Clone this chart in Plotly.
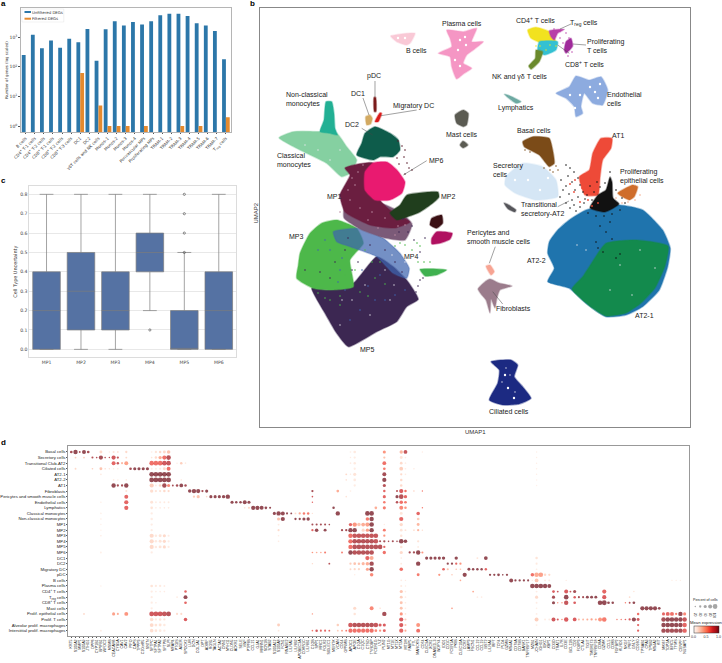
import plotly.graph_objects as go

W, H = 722, 663

# ---------- panel a ----------
deg_groups = ["B cells", "CD4<sup>+</sup> T-1 cells", "CD4<sup>+</sup> T-2 cells", "CD8<sup>+</sup> T-1 cells",
              "CD8<sup>+</sup> T-2 cells", "CD8<sup>+</sup> T-3 cells", "DC1", "DC2", "γδT cells and NK cells",
              "Monos-1", "Monos-2", "Monos-3", "Monos-4", "Perivascular MPs", "Proliferating MPs",
              "TRAM-1", "TRAM-2", "TRAM-3", "TRAM-4", "TRAM-5", "TRAM-6", "TRAM-7", "T<sub>reg</sub> cells"]
unfiltered_degs = [250, 1230, 430, 780, 440, 900, 680, 1900, 160, 1860, 3500, 2500, 3300, 2700, 3500,
                   5600, 6300, 6300, 5200, 3000, 2500, 1620, 180]
filtered_degs = [None, None, None, None, None, None, 62, None, 5, 1, 1, 1, None, 1, None,
                 None, None, 1, None, 1, None, None, 2]

# ---------- panel c ----------
mp_names = ["MP1", "MP2", "MP3", "MP4", "MP5", "MP6"]
unc_q1 = [0.0, 0.1, 0.1, 0.4, 0.0, 0.0]
unc_median = [0.2, 0.3, 0.2, 0.5, 0.0, 0.2]
unc_q3 = [0.4, 0.5, 0.4, 0.6, 0.2, 0.4]
unc_low = [0.0, 0.0, 0.0, 0.2, 0.0, 0.0]
unc_high = [0.8, 0.8, 0.8, 0.8, 0.5, 0.8]
unc_outlier_cat = ["MP4", "MP5", "MP5", "MP5", "MP5"]
unc_outlier_val = [0.1, 0.5, 0.6, 0.7, 0.8]

at2_2 = [(549.3,241.7),(557.7,230),(569.3,220),(586,210),(619.3,205),(642.7,210),(662.7,230),(670.3,248.3),(667.7,266.7),(659.3,290),(642.7,306.7),(626,315),(606,316.7),(586,303.3),(569.3,288.3),(547.7,281.7),(554.3,268.3),(547.7,253.3)]
at2_1 = [(589.3,266.7),(606,243.3),(636,240),(668,246),(665,266),(655,288),(640,304),(626,313),(606,316),(592.7,308.3),(572,289),(582.7,276.7)]
ciliated = [(491,361.7),(511,360),(517.7,365),(514.3,376.7),(522.7,386.7),(531,398.3),(519.3,404),(502.7,405),(489.3,400),(497.7,383.3),(499.3,370)]
secretory = [(506,176.7),(522.7,163.3),(542.7,166.7),(556,180),(557.7,196.7),(536,200),(515,193),(505,185)]
basal = [(522.7,141.7),(532.7,136.7),(549.3,138.3),(552.7,150),(554.3,163.3),(549.3,166.7),(539.3,155),(524.3,146.7)]
at1 = [(601,138.3),(612,138.3),(611,148.3),(602.7,160),(600,178),(598,195),(585,195),(579.3,176.7),(589.3,170),(592.7,153.3)]
prolif_epi = [(617.7,193.3),(632.7,185),(637.7,186.7),(634.3,196.7),(629.3,200)]
transitional = [(598,195),(606,190),(610,177),(612,182),(613,198),(619,204),(605,212),(590,208)]
transitional_small = [(504,203),(507,204),(516,210),(515,212),(508,209)]
pericytes = [(486,266),(490,265),(494.3,271.7),(491,275),(487.7,270)]
fibroblasts = [(478,289),(486,281),(490,279),(499,283),(512,286),(500,290),(497,298),(495,308),(491,299),(490,313),(486,300),(481,294)]
endothelial = [(556,93.3),(569.3,86.7),(576,76),(589.3,80),(601,76.7),(607.7,90),(602.7,105),(592.7,103.3),(584.3,93.3),(581,106.7),(582.7,113.3),(576,116.7),(574.3,106.7),(566,98.3)]
lymphatics = [(504.3,94.3),(507.7,95),(521,101.7),(516,103.3)]
cd4_t = [(527.7,30),(536,27.3),(549.3,31.7),(556,41.7),(542.7,43.3),(531,38.3)]
treg = [(549.3,30.7),(564.3,29.3),(557.7,33.3),(554.3,40),(551,36.7)]
prolif_t = [(566,41.7),(571,38.3),(572.7,46),(566,53.3),(564.3,50)]
cd8_t = [(539.3,41.7),(557.7,41.7),(556,50),(544.3,55),(537.7,50)]
nk_t = [(536,50),(542.7,51.7),(539.3,61.7),(531,69.3),(528.7,66),(535.3,58.3)]
plasma = [(446.7,30),(463.3,31.7),(476.7,28.3),(471.7,41.7),(483.3,41.7),(473.3,50),(466.7,55),(463.3,63.3),(471.7,68.3),(463.3,74),(456.7,79),(451.7,66.7),(450,56.7),(438.3,53.3),(451.7,46.7),(450,38.3)]
b_cells = [(390.7,36),(415,33.3),(410,43.3),(406.7,45),(396.7,41.7)]
mast_a = [(455,115),(463.3,110),(468.3,113.3),(466.7,125),(463.3,126.7),(456.7,123.3)]
mast_b = [(460,145),(463,141),(468,145),(463,148)]
classical = [(279,137.7),(293.3,131.7),(320,131.7),(336.7,133.3),(346.7,146.7),(356.7,160),(350,173.3),(341.7,176.7),(326.7,163.3),(300,150)]
nonclassical = [(326,101.7),(331.7,101.7),(334,113.3),(335,128.3),(337.3,135),(330,133.3),(320,131.7),(324,120)]
dc1 = [(365.7,116.7),(370,115),(372.3,118.3),(370.7,124),(366.7,125)]
pdc = [(374,97.3),(375.7,97.3),(376,111.7),(374.3,111.7)]
migratory_dc = [(375,121.7),(380,112.7),(381.7,113.3),(378.3,121.7)]
dc2 = [(365,133.3),(375,126.7),(390,133.3),(398.3,140),(400,150),(393.3,156.7),(380,156.7),(373.3,160),(356.7,155),(361.7,143.3)]
mp5 = [(311.7,288.3),(330,290),(353.3,283.3),(376.7,256.7),(393.3,266.7),(406.7,280),(418.3,299.3),(406.7,306.7),(396.7,321.7),(376.7,331.7),(348.3,346.7),(336.7,333.3),(325,313.3)]
mp3 = [(300,253.3),(310,233.3),(321.7,223.3),(336.7,220),(356.7,228.3),(363.3,243.3),(350,260),(353.3,286.7),(330,290),(313.3,288.3),(296.7,278.3),(298.3,265)]
mp4 = [(333.3,231.7),(360,228.3),(383.3,238.3),(400,253.3),(409.3,268.3),(406.7,278.3),(393.3,273.3),(376.7,256.7),(350,246.7),(336.7,241.7)]
mp1_fringe = [(345,205),(372,200),(400,212),(412,224),(405,240),(385,238),(362,230),(344,218)]
mp1 = [(345,168),(373,163),(380,200),(390,210),(410,222),(395,228),(370,225),(345,212),(340,195),(350,175)]
mp2 = [(407,195),(438,192),(439,197),(433,203),(420,212),(407,217),(397,220),(390,213),(400,205)]
mp6 = [(373,163),(387,162),(397,170),(405,182),(402,193),(390,200),(375,200),(365,190),(365,172)]
dark_maroon = [(431.7,218.3),(441.7,215),(442.7,223.3),(436.7,228.3),(430,225)]
magenta = [(431.7,238.3),(436.7,231.7),(452.3,233.3),(450,239.3),(440,243.3),(431.7,244)]
small_green = [(420,269.3),(446.7,270),(436.7,275),(425,276)]

stray_black = [(566,165),(570,168),(574,172),(568,176),(578,178),(572,182),(580,185),(566,186),(575,190),(583,192),(569,194),(578,197),(585,199),(572,200),(566,203),(574,205),(580,207),(570,208),(576,211),(590,186),(594,192),(587,195),(592,200),(584,203),(588,213),(596,216),(604,216),(612,214),(620,210),(625,203),(622,198),(616,190),(610,172),(605,183),(600,187),(597,182),(600,226),(606,232),(612,239),(596,242),(603,252),(616,258),(620,254),(598,248),(610,222),(561,180),(563,190),(560,197)]
stray_maroon = [(398,141),(402,146),(405,150),(404,157),(407,163),(409,168),(412,170),(405,174),(399,164),(397,158)]
stray_green = [(330,300),(345,275),(360,292),(372,262),(385,284),(395,246),(400,243),(405,245),(412,250),(420,246),(417,243),(418,262),(424,262),(430,262),(340,305),(325,298),(355,270),(365,250),(375,278),(352,282),(340,296),(318,293),(368,296),(380,262)]
stray_purple = [(420,252),(414,240),(408,232),(420,280),(423,278),(418,286),(416,292),(403,219),(412,226),(399,232),(425,238),(345,250),(358,262),(335,262),(320,272),(305,270),(348,238),(370,245),(385,250),(395,262),(402,272),(330,278),(352,270)]
stray_blue = [(345,290),(362,270),(375,300),(350,320),(385,300),(330,250),(318,250),(340,270),(360,310),(395,295),(325,240),(342,258),(368,286),(380,275),(405,290),(338,282)]
stray_light = [(352,178),(358,172),(363,165),(355,185),(348,190),(372,212),(395,235),(405,225),(378,228),(340,212),(350,200),(360,208),(385,218),(398,226),(368,220)]
stray_white = [(352,300),(370,315),(385,270),(394,285),(340,325),(620,265),(640,250),(655,268),(610,290),(632,295),(586,250),(577,245),(502,382),(510,375),(515,392),(506,368),(342,300),(365,285),(305,145),(318,150),(330,160),(340,150),(390,300),(405,262),(392,255)]
stray_gap = [(455,60),(460,40),(458,50),(447,40),(465,37),(466,45),(460,66),(580,95),(595,92),(570,95),(590,87),(598,98),(575,108),(600,84),(505,375),(508,388),(514,398),(398,38),(405,38),(528,180),(540,190),(515,180),(548,178)]
stray_red = [(575,180),(570,184),(582,188),(588,200),(580,202),(592,206),(598,203),(574,192),(590,178),(596,158)]
stray_magenta = [(554,29),(560,31),(566,33),(569,38),(560,38),(563,43),(572,52),(568,56)]
stray_yellow = [(540,46),(550,45),(556,46),(546,50),(536,46)]
stray_brown = [(544,168),(550,170),(556,166),(553,172),(530,152),(525,150),(558,170)]
stray_peach = [(622,203),(628,202),(635,200),(640,195),(616,198)]

umap_clusters = [
    ("AT2-2", at2_2, "#1f74ad", 1), ("AT2-1", at2_1, "#138a4d", 1), ("Ciliated cells", ciliated, "#1c2a82", 1),
    ("Secretory cells", secretory, "#d5e6f5", 1), ("Basal cells", basal, "#7b4b18", 1), ("AT1", at1, "#ee4a38", 1),
    ("Proliferating epithelial cells", prolif_epi, "#cf6d2b", 1), ("Transitional secretory-AT2", transitional, "#111111", 1),
    ("Transitional small", transitional_small, "#55555a", 1),
    ("Pericytes", pericytes, "#f7a493", 1), ("Fibroblasts", fibroblasts, "#9b7c8c", 1),
    ("Endothelial cells", endothelial, "#8dabdf", 1), ("Lymphatics", lymphatics, "#6ea9a2", 1),
    ("CD4 T", cd4_t, "#f2e21f", 1), ("Treg", treg, "#b83fa8", 1), ("Prolif T", prolif_t, "#a02a9b", 1),
    ("CD8 T", cd8_t, "#34c1d2", 1), ("NK", nk_t, "#6b8a2c", 1),
    ("Plasma cells", plasma, "#f596c4", 1), ("B cells", b_cells, "#f9c9d6", 1),
    ("Mast cells", mast_a, "#5b5b52", 1), ("Mast cells 2", mast_b, "#5b5b52", 1),
    ("Classical monocytes", classical, "#85d0a1", 1), ("Non-classical monocytes", nonclassical, "#22b094", 1),
    ("MP5", mp5, "#3c2752", 1), ("MP3", mp3, "#4db84a", 1), ("MP4", mp4, "#3f65ae", 0.72),
    ("MP1 fringe", mp1_fringe, "#7b5a78", 1), ("MP1", mp1, "#6b1e40", 1), ("MP2", mp2, "#203e1d", 1), ("MP6", mp6, "#e91a70", 1),
    ("DC2", dc2, "#0e5c4b", 1), ("DC1", dc1, "#d3aa62", 1), ("pDC", pdc, "#7b1b1b", 1), ("Migratory DC", migratory_dc, "#d91c1c", 1),
    ("Small maroon", dark_maroon, "#3a0f13", 1), ("Magenta", magenta, "#b01060", 1), ("Small green", small_green, "#40b150", 1),
]
umap_strays = [(stray_black, "#111111", 1.6), (stray_maroon, "#5a1a2a", 1.6), (stray_green, "#4db84a", 1.6),
               (stray_purple, "#3c2752", 1.6), (stray_blue, "#3f65ae", 1.6), (stray_light, "#b98aa0", 1.6),
               (stray_white, "#e8e8ee", 1.4), (stray_gap, "#ffffff", 2.4), (stray_red, "#ee4a38", 1.8),
               (stray_magenta, "#b83fa8", 1.5), (stray_yellow, "#f2e21f", 1.5), (stray_brown, "#7b4b18", 1.5),
               (stray_peach, "#f3a98a", 1.6)]

umap_labels = [("Plasma cells",462,23.3,"center"),("B cells",416.7,50.7,"center"),("pDC",374.3,75.7,"center"),
    ("DC1",358.3,93.3,"center"),("Non-classical<br>monocytes",286,99.3,"left"),("Migratory DC",413.3,106.3,"center"),
    ("DC2",351.7,124,"center"),("Mast cells",461.7,134.3,"center"),("Classical<br>monocytes",277.3,160.3,"left"),
    ("MP6",436,160.3,"center"),("MP1",334.7,196.7,"center"),("MP2",448.3,196.7,"center"),("MP3",296,236.7,"center"),
    ("MP4",411.7,256.7,"center"),("MP5",367,349,"center"),("Pericytes and<br>smooth muscle cells",466.7,237,"left"),
    ("Transitional<br>secretory-AT2",521.3,209.5,"left"),("AT2-2",536.7,260.3,"center"),("Fibroblasts",513.3,308.3,"center"),
    ("AT2-1",644,315.7,"center"),("CD4<sup>+</sup> T cells",535.3,20,"center"),("T<sub>reg</sub> cells",584.3,23,"center"),
    ("Proliferating<br>T cells",587.3,45.8,"left"),("CD8<sup>+</sup> T cells",584.7,64,"center"),
    ("NK and γδ T cells",519.3,76.7,"center"),("Endothelial<br>cells",607,99.3,"left"),("Lymphatics",516,108.3,"center"),
    ("Basal cells",534,131,"center"),("AT1",618,135.7,"center"),("Secretory<br>cells",493.3,170.3,"left"),
    ("Proliferating<br>epithelial cells",620.3,176.6,"left"),("Ciliated cells",509,411,"center")]
umap_leaders = [((375,81),(375,97)),((363,98),(369,115)),((381,115.7),(416.7,110)),((361.7,128.3),(372.7,135)),
    ((426.7,160.7),(403.3,175)),((571,24),(560,29)),((569.3,53.3),(557.7,45)),((586,45),(572.7,44)),
    ((495.3,246.7),(489.3,263.3)),((502.7,304),(492.7,291.7)),((557.7,206.7),(569,201))]

# ---------- panel d ----------
dot_rows = ["Basal cells", "Secretory cells", "Transitional Club-AT2", "Ciliated cells", "AT2-1", "AT2-2", "AT1",
            "Fibroblasts", "Pericytes and smooth muscle cells", "Endothelial cells", "Lymphatics",
            "Classical monocytes", "Non-classical monocytes", "MP1", "MP2", "MP3", "MP4", "MP5", "MP6", "DC1", "DC2",
            "Migratory DC", "pDC", "B cells", "Plasma cells", "CD4<sup>+</sup> T cells", "T<sub>reg</sub> cells",
            "CD8<sup>+</sup> T cells", "Mast cells", "Prolif. epithelial cells", "Prolif. T cells",
            "Alveolar prolif. macrophages", "Interstitial prolif. macrophages"]
dot_genes = ["KRT5","S100A2","MMP1","S100A9","JTHG1","DPP6","CYP1B1","BPIFB1","WFDC2","MSMB","CEACAM6","CYB5A","CAV1","CAV2","PIFO","CAPS","TPPP3","C20orf85","SNTN",
             "SFTPC","SFTPA1","SFTPA2","SFTPB","SLPI","MFAP4","PTGIS","AGER","SPOCK2","LUM","DCN","COL1A1","DPT","ADIRF",
             "RGS5","TAGLN","ACTA2","CNN1","MYH11","CLDN5","ACKR1","SELE","VWF","PTPRB","CCL21","GJA1","MMRN1","SCN1B","STAB2",
             "S100A12","S100A8","FCN1","RNASE2","LILRA5","LILRB2","APOBEC3A","CDKN1C","LILRB1","C1QB","SPP1","MRC1","FOLR2","SIGLEC1","MERTK","VCAN","CD14","GPNMB","APOC1",
             "APOE","C1QA","C1QC","CTSD","TYROBP","FCER1G","LYZ","PLIN2","MT1G","MT1E","MT1X","MT2A","MT1M","FABP5","FTL","MARCKS","CD74","CLEC9A","XCR1","DNASE1L3","WDFY4","IDO1",
             "CD1C","FCER1A","PKIB","CLEC10A","CCR7","LAMP3","FSCN1","CCL22","CCL19","BST2","LILRA4","IRF7","TCF4","PLD4","GZMB","MS4A1","CD79A","CD79B","BANK1","TNFRSF17",
             "MZB1","JCHAIN","IGHG1","IGKC","XBP1","CD3D","TRAT1","IL7R","CD3E","BCL11B","CD2","FOXP3","CTLA4","TIGIT","TMEM173","TNFRSF18","CD8A","GZMK","CCL5","CD8B",
             "FGFBP2","KLRD1","NKG7","PRF1","GNLY","CD160","TPSAB1","CPA3","TPSB2","MS4A2","KIT","MKI67","TOP2A","BIRC5","TYMS","CENPF","NUSAP1"]

# each entry: (gene column, percent of cells, mean expression)
row_basal = [(0,50,.95),(1,90,1),(2,30,.95),(3,80,1),(4,50,.95),(7,55,.2),(9,20,.1),(10,35,.15),(11,30,.15),(13,40,.2),(19,25,.1),(20,40,.15),(21,45,.2),(22,55,.2),(23,70,.3),(66,25,.08),(67,50,.12),(74,60,.5),(78,65,.35),(79,75,.85),(83,20,.1),(110,20,.08)]
row_secretory = [(1,30,.25),(3,30,.25),(5,35,.9),(6,25,.9),(7,85,.95),(8,25,.9),(9,20,.9),(10,85,.8),(11,40,.85),(13,30,.2),(19,25,.15),(20,45,.2),(21,65,.4),(22,85,.65),(23,95,.9),(66,20,.1),(67,40,.1),(74,40,.3),(78,55,.15),(79,25,.1),(110,20,.08)]
row_transitional = [(10,80,.7),(11,45,.85),(12,35,.35),(13,80,.45),(19,95,.65),(20,95,.65),(21,95,.65),(22,95,.8),(23,95,.85),(25,20,.1),(26,45,.25),(27,25,.12),(66,25,.1),(67,45,.12),(74,75,.65),(78,50,.2),(79,25,.1),(110,20,.08)]
row_ciliated = [(1,30,.2),(5,25,.25),(7,55,.3),(8,20,.2),(9,20,.15),(10,20,.12),(11,20,.12),(14,50,.95),(15,60,1),(16,60,1),(17,60,1),(18,60,1),(19,30,.1),(20,30,.1),(21,35,.12),(22,55,.2),(23,80,.65),(67,40,.1),(74,50,.6),(78,75,.25),(79,25,.1),(81,25,.1),(110,20,.08)]
row_at2_1 = [(7,30,.1),(19,100,1),(20,100,1),(21,100,1),(22,100,1),(23,100,1),(65,30,.2),(66,20,.1),(67,60,.15),(74,80,.95),(78,40,.2),(79,25,.1),(110,20,.08)]
row_at2_2 = [(10,25,.1),(11,20,.1),(13,25,.1),(19,100,1),(20,100,1),(21,100,1),(22,100,1),(23,100,1),(26,25,.1),(65,25,.15),(67,50,.12),(74,85,1),(78,45,.2),(110,20,.06)]
row_at1 = [(10,90,1),(11,40,.95),(12,40,.95),(13,90,1),(19,85,.25),(20,30,.1),(21,50,.2),(22,90,.95),(23,60,.55),(24,30,.95),(25,45,.95),(26,75,1),(27,45,.95),(67,40,.1),(74,60,.9),(78,45,.2),(110,20,.06)]
row_fibro = [(13,35,.15),(19,65,.18),(20,40,.15),(21,40,.15),(22,45,.2),(23,40,.2),(28,70,1),(29,90,1),(30,85,1),(31,40,.95),(32,60,1),(57,40,.95),(63,50,.4),(66,25,.08),(74,45,.7),(77,35,.9),(78,85,.75),(79,45,.65),(81,20,.25),(83,20,.6)]
row_pericytes = [(13,80,.7),(29,40,.25),(30,60,.3),(32,25,.2),(33,60,1),(34,60,1),(35,60,1),(36,65,1),(37,90,1),(57,25,.8),(65,25,.15),(74,60,.7),(77,60,1),(78,95,.9),(79,65,.7)]
row_endothelial = [(7,25,.08),(13,85,.7),(19,55,.15),(20,30,.1),(21,35,.1),(22,30,.12),(23,30,.12),(38,60,1),(39,45,1),(40,45,1),(41,80,1),(42,60,1),(57,20,.7),(74,45,.6),(77,45,.9),(78,70,.65),(79,50,.6)]
row_lymphatics = [(13,85,.7),(19,50,.15),(20,25,.1),(21,30,.1),(22,25,.12),(23,25,.12),(41,25,.15),(42,40,.2),(43,85,1),(44,85,1),(45,80,1),(46,50,1),(47,35,1),(62,45,1),(72,50,.4),(74,60,.6),(78,80,.55),(79,45,.5),(83,20,.6)]
row_classical = [(7,25,.07),(19,40,.1),(48,60,1),(49,90,1),(50,80,1),(51,35,1),(52,30,1),(53,30,.2),(54,40,.4),(55,45,.6),(56,45,.6),(57,20,.15),(63,90,1),(70,95,1),(71,95,1),(78,55,.15),(82,70,.7)]
row_nonclassical = [(7,25,.08),(19,45,.1),(49,60,.3),(50,85,1),(53,40,1),(54,40,1),(55,60,1),(56,65,1),(70,70,.6),(71,90,1),(78,85,.7),(82,50,.25)]
row_mp1 = [(7,20,.07),(19,40,.1),(49,30,.12),(57,35,.95),(58,35,.95),(59,35,.95),(60,35,.95),(61,25,.95),(66,65,.7),(67,90,.5),(68,70,.3),(69,75,.4),(70,85,.45),(71,95,1),(74,20,.1),(78,65,.2),(82,55,.35)]
row_mp2 = [(7,20,.07),(19,40,.1),(49,35,.2),(57,40,.7),(58,70,1),(60,55,1),(64,40,.95),(65,40,.95),(66,90,1),(67,90,1),(69,60,.2),(70,65,.45),(71,90,1),(74,55,.6),(78,50,.15),(79,30,.15),(81,30,.15),(82,40,.35),(83,20,.2)]
row_mp3 = [(7,25,.1),(19,85,.2),(20,45,.12),(21,55,.15),(22,60,.2),(23,35,.1),(49,25,.1),(66,90,.65),(67,95,.85),(68,95,.85),(69,95,.85),(70,95,.85),(71,95,.85),(72,95,.85),(74,40,.5),(78,45,.15)]
row_mp4 = [(19,85,.2),(20,45,.12),(21,55,.15),(22,60,.2),(23,40,.1),(49,25,.1),(66,90,.65),(67,95,.9),(68,95,.9),(69,95,.9),(70,95,.9),(71,95,.9),(72,95,.85),(73,35,.95),(74,40,.95),(75,25,.95),(76,35,.95),(77,25,.95),(78,95,1),(79,70,1),(82,40,.15)]
row_mp5 = [(19,85,.2),(20,45,.12),(21,55,.15),(22,60,.2),(23,40,.1),(66,90,.65),(67,95,.9),(68,95,.9),(69,95,.9),(70,95,.9),(71,95,.9),(72,95,.9),(73,95,.9),(74,40,.7),(78,45,.15),(82,30,.1)]
row_mp6 = [(7,30,.08),(19,40,.1),(57,25,.5),(58,25,.4),(59,25,.4),(60,35,.6),(64,30,.6),(66,90,1),(67,95,.9),(68,95,.9),(69,95,.9),(70,95,.9),(71,95,.9),(74,65,.65),(78,60,.2),(80,40,.95),(81,40,.95),(82,90,1),(83,35,.5)]
row_dc1 = [(70,85,.7),(71,80,.4),(78,25,.1),(84,60,1),(85,60,1),(86,60,1),(87,60,1),(88,65,1),(91,65,1),(96,30,.15),(98,75,1),(110,45,.15)]
row_dc2 = [(57,20,.2),(61,30,.9),(66,40,.25),(67,50,.3),(68,45,.3),(69,60,.35),(70,70,.4),(71,90,.95),(78,30,.12),(82,90,1),(89,40,1),(90,40,1),(91,40,.7),(92,40,.5),(110,35,.12)]
row_migratory = [(66,30,.2),(67,40,.2),(68,40,.2),(70,60,.45),(71,90,1),(78,70,.65),(88,50,.7),(89,35,.3),(91,25,.3),(92,25,.3),(94,55,1),(95,45,1),(96,45,1),(97,45,1),(98,45,.7),(110,25,.1)]
row_pdc = [(67,20,.1),(71,70,.55),(82,55,.6),(87,40,.5),(90,20,.3),(93,85,1),(99,40,1),(100,40,1),(101,50,1),(102,25,1),(103,40,1),(109,70,.65),(110,95,.4),(111,95,.45),(112,45,.2),(113,40,.2)]
row_b = [(78,25,.1),(79,20,.1),(92,25,.4),(104,80,1),(105,40,1),(106,40,1),(107,40,1),(108,35,1),(109,20,.1),(110,75,.3),(112,30,.12),(113,30,.12),(117,20,.1),(142,20,.08),(143,20,.08),(144,20,.08)]
row_plasma = [(7,20,.07),(19,50,.15),(20,40,.12),(21,40,.12),(22,30,.1),(78,35,.12),(79,20,.1),(109,95,1),(110,95,1),(111,95,1),(112,90,1),(113,80,1)]
row_cd4 = [(19,40,.1),(20,25,.1),(21,25,.1),(22,25,.1),(27,45,.7),(78,60,.3),(79,25,.1),(95,30,.4),(110,30,.1),(114,50,.75),(115,30,.85),(117,80,.75),(118,30,.85),(119,60,.95),(126,85,.7),(133,20,.15)]
row_treg = [(19,40,.1),(25,25,.12),(27,80,1),(78,55,.25),(79,25,.1),(96,25,.1),(97,25,.1),(110,60,.2),(114,60,.95),(117,95,1),(119,45,.75),(120,35,.95),(121,35,.95),(122,55,1),(123,55,1),(124,55,1),(126,85,.75),(132,25,.2)]
row_cd8 = [(19,40,.1),(20,25,.1),(27,50,.7),(78,55,.3),(79,25,.12),(110,30,.1),(114,60,1),(115,20,.5),(116,20,.5),(117,90,.85),(119,50,.75),(125,95,1),(126,100,1),(127,50,1),(128,45,1),(131,20,.6),(132,30,.9),(133,50,1)]
row_mast = [(19,40,.1),(67,60,.2),(71,80,.55),(73,20,.2),(78,55,.3),(79,25,.1),(90,25,.5),(110,25,.08),(135,85,1),(136,85,1),(137,85,1),(138,85,1),(139,50,1)]
row_prolif_epi = [(3,30,.2),(10,60,.45),(11,35,.4),(13,80,.5),(19,100,.8),(20,100,.8),(21,100,.8),(22,100,.85),(23,100,.9),(25,35,.2),(26,35,.2),(57,20,.5),(67,45,.15),(74,90,.95),(78,60,.5),(79,25,.15),(110,30,.08),(134,45,.65),(140,60,.7),(141,80,.7),(142,80,.65),(143,40,.6),(144,90,1),(145,60,.55)]
row_prolif_t = [(19,70,.18),(20,40,.12),(21,45,.15),(22,40,.15),(27,70,.75),(78,85,.75),(79,35,.25),(110,80,.25),(112,30,.1),(113,30,.1),(114,80,.8),(115,35,.75),(116,25,.5),(117,90,.75),(119,75,.75),(120,30,.35),(121,30,.35),(122,35,.4),(123,40,.45),(124,35,.4),(125,80,.5),(126,95,.6),(129,20,.6),(130,20,.6),(131,25,.7),(132,40,.75),(133,85,1),(134,55,.8),(140,90,.95),(141,95,1),(142,95,1),(143,90,1),(144,90,1),(145,90,.85)]
row_alv = [(19,75,.2),(20,50,.15),(21,55,.15),(22,45,.12),(49,55,.25),(63,45,.25),(66,95,.8),(67,95,.9),(68,95,.9),(69,95,.9),(70,95,.9),(71,95,.9),(72,95,.85),(73,60,.75),(74,60,.75),(78,85,.75),(79,35,.3),(82,80,.5),(110,30,.08),(134,40,.7),(140,90,1),(141,95,1),(142,95,1),(143,90,1),(144,90,1),(145,90,.7)]
row_int = [(7,30,.1),(19,70,.18),(20,50,.15),(21,50,.12),(22,40,.1),(49,30,.12),(57,25,.6),(58,45,.8),(59,35,.7),(60,35,.7),(61,30,.7),(63,30,.25),(64,30,.45),(65,30,.6),(66,85,.65),(67,85,.65),(68,85,.65),(69,85,.65),(70,85,.65),(71,85,.65),(72,50,.55),(73,40,.5),(74,55,.7),(78,85,.7),(79,35,.4),(82,80,.65),(134,40,.7),(140,90,.95),(141,90,.95),(142,90,.95),(143,90,.95),(144,90,.95),(145,90,.7)]
dot_table = [row_basal,row_secretory,row_transitional,row_ciliated,row_at2_1,row_at2_2,row_at1,row_fibro,row_pericytes,
             row_endothelial,row_lymphatics,row_classical,row_nonclassical,row_mp1,row_mp2,row_mp3,row_mp4,row_mp5,row_mp6,
             row_dc1,row_dc2,row_migratory,row_pdc,row_b,row_plasma,row_cd4,row_treg,row_cd8,row_mast,row_prolif_epi,
             row_prolif_t,row_alv,row_int]
legend_pct = [20, 40, 60, 80, 100]
cbar_ticks = [0.0, 0.5, 1.0]


# ---------- helpers ----------
def xdom(a, b): return [a / W, b / W]
def ydom(top, bottom): return [1 - bottom / H, 1 - top / H]
def pct_size(p): return 0.6 + p * 0.042
def rgba(hexcol, a):
    return f"rgba({int(hexcol[1:3],16)},{int(hexcol[3:5],16)},{int(hexcol[5:7],16)},{a})"

SANS = "Liberation Sans"
DEJAVU = "DejaVu Sans"
fig = go.Figure()

# panel a
fig.add_trace(go.Bar(x=deg_groups, y=unfiltered_degs, name="Unfiltered DEGs", marker=dict(color="#2c77a9", line_width=0),
                     xaxis="x", yaxis="y", showlegend=False))
fig.add_trace(go.Bar(x=deg_groups, y=filtered_degs, name="Filtered DEGs", marker=dict(color="#e58a2e", line_width=0),
                     xaxis="x", yaxis="y", showlegend=False))

# panel b
for name, pts, col, alpha in umap_clusters:
    closed = pts + pts[:1]
    fig.add_trace(go.Scatter(x=[p[0] for p in closed], y=[p[1] for p in closed], mode="lines", fill="toself",
                             fillcolor=rgba(col, alpha), line=dict(color=rgba(col, 0.4 * alpha), width=1.6, shape="spline", smoothing=0.5),
                             name=name, xaxis="x2", yaxis="y2", showlegend=False, hoverinfo="skip"))
for pts, col, sz in umap_strays:
    fig.add_trace(go.Scatter(x=[p[0] for p in pts], y=[p[1] for p in pts], mode="markers",
                             marker=dict(color=col, size=sz), xaxis="x2", yaxis="y2", showlegend=False, hoverinfo="skip"))
lx, ly = [], []
for a, b in umap_leaders:
    lx += [a[0], b[0], None]
    ly += [a[1], b[1], None]
fig.add_trace(go.Scatter(x=lx, y=ly, mode="lines", line=dict(color="#444", width=0.5), xaxis="x2", yaxis="y2",
                         showlegend=False, hoverinfo="skip"))

# panel c
fig.add_trace(go.Box(x=mp_names, q1=unc_q1, median=unc_median, q3=unc_q3, lowerfence=unc_low, upperfence=unc_high,
                     fillcolor="#5572a3", line=dict(color="#7d7d7d", width=0.7), width=0.8, whiskerwidth=0.5,
                     boxpoints=False, xaxis="x3", yaxis="y3", showlegend=False))
fig.add_trace(go.Scatter(x=unc_outlier_cat, y=unc_outlier_val, mode="markers",
                         marker=dict(symbol="circle-open", size=2.2, color="#444", line=dict(width=0.6, color="#444")),
                         xaxis="x3", yaxis="y3", showlegend=False))

# panel d
dx, dy, ds, dc = [], [], [], []
for r, row in enumerate(dot_table):
    for col, pct, expr in row:
        dx.append(col); dy.append(r); ds.append(pct_size(pct)); dc.append(expr)
fig.add_trace(go.Scatter(
    x=dx, y=dy, mode="markers", xaxis="x4", yaxis="y4", showlegend=False,
    marker=dict(size=ds, color=dc, colorscale="Reds", cmin=0, cmax=1, line_width=0,
                colorbar=dict(orientation="h", lenmode="pixels", len=25.4, thicknessmode="pixels", thickness=6.6,
                              x=706 / W, xanchor="center", y=1 - 626.3 / H, yanchor="top", xpad=0, ypad=0,
                              tickvals=cbar_ticks, ticktext=["0.0", "0.5", "1.0"], ticks="", tickfont=dict(size=3.6, family=SANS, color="#333"),
                              outlinewidth=0.5, outlinecolor="#333"))))
# dot-size legend
fig.add_trace(go.Scatter(x=legend_pct, y=[0] * 5, mode="markers", xaxis="x5", yaxis="y5", showlegend=False,
                         marker=dict(size=[pct_size(p) for p in legend_pct], color="#808080", line_width=0)))

frame = dict(showline=True, mirror=True, zeroline=False, showgrid=False)
layout = dict(
    width=W, height=H, margin=dict(l=0, r=0, t=0, b=0), paper_bgcolor="white", plot_bgcolor="white",
    barmode="group", bargap=0.16, bargroupgap=0, showlegend=False, font=dict(family=SANS, color="#222"),
    xaxis=dict(domain=xdom(20.7, 231), range=[-0.54, 22.56], anchor="y", tickangle=-45, type="category",
               linecolor="#b5b5b5", linewidth=0.9, ticks="outside", ticklen=1.5, tickwidth=0.4, tickcolor="#555",
               tickfont=dict(size=4.1, family=DEJAVU, color="#333"), automargin=False, **frame),
    yaxis=dict(domain=ydom(8, 132), type="log", range=[-0.2, 3.99], anchor="x", tickmode="array", tickvals=[1, 10, 100, 1000],
               ticktext=["10<sup>0</sup>", "10<sup>1</sup>", "10<sup>2</sup>", "10<sup>3</sup>"],
               linecolor="#b5b5b5", linewidth=0.9, ticks="outside", ticklen=1.5, tickwidth=0.4, tickcolor="#555",
               tickfont=dict(size=4.5, family=DEJAVU, color="#333"), automargin=False,
               title=dict(text="Number of genes (log scaled)", font=dict(size=3.9, family=DEJAVU, color="#333"), standoff=1), **frame),
    xaxis2=dict(domain=xdom(260.3, 689.7), range=[260.3, 689.7], anchor="y2", linecolor="#888", linewidth=0.9,
                showticklabels=False, ticks="", **frame),
    yaxis2=dict(domain=ydom(8, 426.5), range=[426.5, 8], anchor="x2", linecolor="#888", linewidth=0.9,
                showticklabels=False, ticks="", **frame),
    xaxis3=dict(domain=xdom(29.3, 236), range=[-0.5, 5.5], anchor="y3", type="category", linecolor="#dcdcdc", linewidth=0.8,
                ticks="", tickfont=dict(size=4.6, family=DEJAVU, color="#444"), automargin=False, **frame),
    yaxis3=dict(domain=ydom(186, 357.3), range=[-0.041, 0.843], anchor="x3", linecolor="#dcdcdc", linewidth=0.8, ticks="",
                tickmode="array", tickvals=[0, .1, .2, .3, .4, .5, .6, .7, .8],
                ticktext=["0.0", "0.1", "0.2", "0.3", "0.4", "0.5", "0.6", "0.7", "0.8"],
                tickfont=dict(size=4.6, family=DEJAVU, color="#444"), automargin=False,
                title=dict(text="Cell Type Uncertainty", font=dict(size=4.9, family=DEJAVU, color="#333"), standoff=2),
                showline=True, mirror=True, zeroline=False, showgrid=True, gridcolor="#e8e8e8", gridwidth=0.6, layer="below traces"),
    xaxis4=dict(domain=xdom(68.3, 688.7), range=[-0.71, 145.96], anchor="y4", tickmode="array",
                tickvals=list(range(146)), ticktext=dot_genes, tickangle=-90, linecolor="#999", linewidth=0.9,
                ticks="outside", ticklen=1, tickwidth=0.3, tickcolor="#555",
                tickfont=dict(size=3.6, family=SANS, color="#222"), automargin=False, **frame),
    yaxis4=dict(domain=ydom(446.3, 636), range=[32.96, -1.02], anchor="x4", tickmode="array",
                tickvals=list(range(33)), ticktext=dot_rows, linecolor="#999", linewidth=0.9,
                ticks="outside", ticklen=1, tickwidth=0.3, tickcolor="#555",
                tickfont=dict(size=4.25, family=SANS, color="#222"), automargin=False, **frame),
    xaxis5=dict(domain=xdom(692.8, 717.6), range=[10, 110], anchor="y5", tickmode="array", tickvals=legend_pct,
                ticktext=["20", "40", "60", "80", "100"], ticks="", showline=False, zeroline=False, showgrid=False,
                tickfont=dict(size=3.3, family=SANS, color="#333"), automargin=False),
    yaxis5=dict(domain=ydom(603, 610), range=[-1, 1], anchor="x5", visible=False),
)

ann = []
def txt(text, x, y, size, align="center", bold=False, color="#222", angle=0, family=SANS):
    ann.append(dict(text=f"<b>{text}</b>" if bold else text, x=x / W, y=1 - y / H, xref="paper", yref="paper",
                    showarrow=False, font=dict(size=size, family=family, color=color), align=align,
                    xanchor=align if align != "center" else "center", yanchor="middle", textangle=angle,
                    borderpad=0, borderwidth=0))

txt("a", 3, 4, 8, bold=True, color="#000")
txt("b", 252, 4, 8, bold=True, color="#000")
txt("c", 3, 181, 8, bold=True, color="#000")
txt("d", 3, 442, 8, bold=True, color="#000")
for t, x, y, al in umap_labels:
    txt(t, x, y, 7, al, color="#1a1a1a")
txt("UMAP1", 475, 431.7, 6, color="#333")
txt("UMAP2", 255.5, 213, 6, color="#333", angle=-90)
txt("Unfiltered DEGs", 32.3, 12, 3.9, "left", family=DEJAVU, color="#333")
txt("Filtered DEGs", 32.3, 18.7, 3.9, "left", family=DEJAVU, color="#333")
txt("Percent of cells", 705, 600, 3.6, color="#222")
txt("Mean expression", 706, 622.7, 4.2, color="#222")
layout["annotations"] = ann

def pshape(kind, x0, y0, x1, y1, **kw):
    return dict(type=kind, xref="paper", yref="paper", x0=x0 / W, x1=x1 / W, y0=1 - y0 / H, y1=1 - y1 / H, **kw)

layout["shapes"] = [
    pshape("rect", 22, 9, 63.8, 22, fillcolor="rgba(255,255,255,0.8)", line=dict(color="#ddd", width=0.4)),
    pshape("rect", 24.5, 11, 31, 13, fillcolor="#2c77a9", line_width=0),
    pshape("rect", 24.5, 17.7, 31, 19.7, fillcolor="#e58a2e", line_width=0),
]
fig.update_layout(**layout)
fig.write_html("out.html", config={"displayModeBar": False},
               post_script="document.body.style.margin='0';document.documentElement.style.overflow='hidden';")
